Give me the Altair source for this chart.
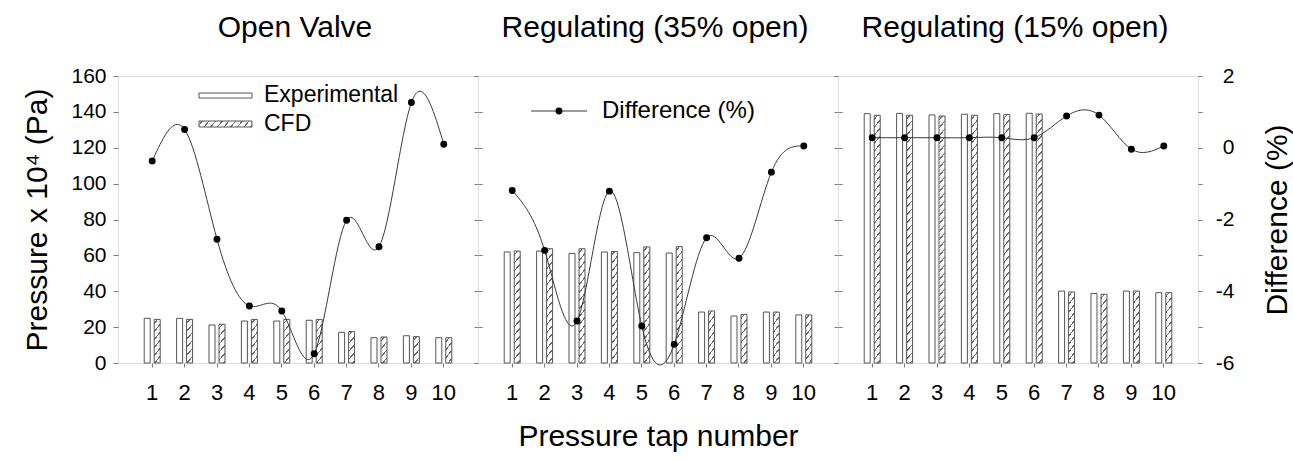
import altair as alt
import pandas as pd

# Pressure tap numbers shared by all three operating conditions
taps = list(range(1, 11))
series_names = ["Experimental", "CFD"]

titles = ["Open Valve", "Regulating (35% open)", "Regulating (15% open)"]

# Pressure x 10^4 (Pa)
exp_open = [24.9, 24.9, 21.2, 23.4, 23.4, 23.8, 17.1, 14.1, 15.2, 14.1]
cfd_open = [24.3, 24.3, 21.6, 24.3, 24.3, 24.3, 17.5, 14.5, 14.7, 14.1]
exp_35 = [61.9, 62.4, 61.1, 61.9, 61.5, 61.3, 28.4, 26.2, 28.4, 26.8]
cfd_35 = [62.4, 63.7, 63.7, 62.2, 64.7, 64.9, 29.0, 27.1, 28.4, 26.8]
exp_15 = [139.0, 139.2, 138.3, 138.7, 139.0, 139.2, 40.1, 38.8, 40.1, 39.2]
cfd_15 = [138.1, 138.1, 137.7, 138.1, 138.5, 138.8, 39.6, 38.3, 40.1, 39.2]

# Difference between CFD and experiment (%)
diff_open = [-0.37, 0.51, -2.55, -4.41, -4.55, -5.74, -2.02, -2.76, 1.26, 0.10]
diff_35 = [-1.19, -2.86, -4.83, -1.21, -4.97, -5.48, -2.51, -3.08, -0.68, 0.05]
diff_15 = [0.28, 0.28, 0.28, 0.28, 0.28, 0.28, 0.885, 0.91, -0.04, 0.05]

FONT = "Liberation Sans"
PANEL_W = 360
PANEL_H = 287
P_MAX = 160
BAR_W = 6  # resulting pixel width of each bar from the band settings below
FRAME = "#7a7a7a"


def hatch(w, h, slope=1.2, period=8.0, thick=1.7, ink="#6a6a6a", paper="white"):
    """Diagonal '/' hatching as a striped linear gradient for a w x h box."""
    s = w * slope + h
    k = s / (w * w * slope * slope + h * h)
    stops = [{"offset": 0, "color": paper}]
    c = period / 2
    while c + thick / 2 < s:
        a = round((c - thick / 2) / s, 5)
        b = round((c + thick / 2) / s, 5)
        stops += [
            {"offset": a, "color": paper},
            {"offset": a, "color": ink},
            {"offset": b, "color": ink},
            {"offset": b, "color": paper},
        ]
        c += period
    stops.append({"offset": 1, "color": paper})
    return {
        "gradient": "linear",
        "x1": 0,
        "y1": 0,
        "x2": round(k * w * slope, 5),
        "y2": round(k * h, 5),
        "stops": stops,
    }


def panel(idx, title, exp, cfd, diff):
    first, last = idx == 0, idx == 2
    bars_df = pd.DataFrame({
        "tap": taps * 2,
        "series": [series_names[0]] * len(taps) + [series_names[1]] * len(taps),
        "pressure": exp + cfd,
    })
    diff_df = pd.DataFrame({"tap": taps, "diff": diff})

    x = alt.X(
        "tap:O",
        scale=alt.Scale(paddingInner=0, paddingOuter=0.556),
        axis=alt.Axis(
            title="Pressure tap number" if idx == 1 else None,
            labelAngle=0, labelFontSize=22, labelPadding=15, labelColor="black",
            tickSize=4, tickColor=FRAME, domain=False,
            titleFontSize=30, titleFontWeight="normal", titlePadding=18,
            titleColor="black",
        ),
    )

    if first:
        p_axis = alt.Axis(
            values=list(range(0, 161, 20)), title="Pressure x 10⁴ (Pa)",
            labelFontSize=21, labelPadding=7, labelColor="black",
            tickSize=5, tickColor=FRAME, domain=False, grid=False,
            titleFontSize=30, titleFontWeight="normal", titlePadding=18,
            titleColor="black",
        )
    else:
        p_axis = alt.Axis(
            values=list(range(0, 161, 20)), title=None, labels=False,
            tickSize=4, tickColor=FRAME, domain=False, grid=False,
        )

    if last:
        d_axis = alt.Axis(
            orient="right", values=list(range(-6, 3)), title="Difference (%)",
            labelExpr="datum.value % 2 == 0 ? '' + datum.value : ''",
            labelFontSize=21, labelAlign="right", labelPadding=32,
            labelColor="black", tickSize=4, tickColor=FRAME, domain=False,
            grid=False, titleFontSize=30, titleFontWeight="normal",
            titleAngle=270, titleBaseline="top", titlePadding=28,
            titleColor="black",
        )
    else:
        d_axis = alt.Axis(
            orient="right", values=list(range(-6, 3)), title=None,
            labels=False, tickSize=4, tickColor=FRAME, domain=False, grid=False,
        )

    fill_conditions = [
        {
            "test": f"datum.series === 'CFD' && datum.tap === {t}",
            "value": hatch(BAR_W, v * PANEL_H / P_MAX),
        }
        for t, v in zip(taps, cfd)
    ]

    bars = alt.Chart(bars_df).mark_bar(stroke="#555555", strokeWidth=1).encode(
        x=x,
        xOffset=alt.XOffset(
            "series:N",
            scale=alt.Scale(domain=series_names, paddingInner=0.4, paddingOuter=0.82),
        ),
        y=alt.Y("pressure:Q", scale=alt.Scale(domain=[0, P_MAX], nice=False), axis=p_axis),
        fill={"value": "white", "condition": fill_conditions},
    )

    y_diff = alt.Y("diff:Q", scale=alt.Scale(domain=[-6, 2], nice=False), axis=d_axis)
    line = alt.Chart(diff_df).mark_line(
        interpolate="natural", color="#3a3a3a", strokeWidth=1
    ).encode(x=x, y=y_diff)
    dots = alt.Chart(diff_df).mark_circle(size=48, color="black", opacity=1).encode(
        x=x, y=y_diff
    )

    # panel heading above the plot area
    head = alt.Chart(pd.DataFrame({"label": [title]})).mark_text(
        font=FONT, fontSize=30, align="center", baseline="alphabetic", color="black"
    ).encode(x=alt.value(PANEL_W / 2 - 3), y=alt.value(-39), text="label:N")

    layers = [bars, alt.layer(line, dots), head]

    if idx == 0:
        one = pd.DataFrame({"label": [series_names[0]]})
        two = pd.DataFrame({"label": [series_names[1]]})
        layers += [
            alt.Chart(one).mark_rect(fill="white", stroke="#555555", strokeWidth=1).encode(
                x=alt.value(81), x2=alt.value(134), y=alt.value(17), y2=alt.value(22)
            ),
            alt.Chart(two).mark_rect(fill=hatch(53, 6), stroke="#555555", strokeWidth=1).encode(
                x=alt.value(81), x2=alt.value(134), y=alt.value(45), y2=alt.value(51)
            ),
            alt.Chart(one).mark_text(
                font=FONT, fontSize=23, align="left", baseline="middle", color="black"
            ).encode(x=alt.value(146), y=alt.value(19), text="label:N"),
            alt.Chart(two).mark_text(
                font=FONT, fontSize=23, align="left", baseline="middle", color="black"
            ).encode(x=alt.value(146), y=alt.value(48), text="label:N"),
        ]
    if idx == 1:
        lab = pd.DataFrame({"label": ["Difference (%)"]})
        layers += [
            alt.Chart(lab).mark_rule(color="#3a3a3a", strokeWidth=1).encode(
                x=alt.value(53), x2=alt.value(109), y=alt.value(35)
            ),
            alt.Chart(lab).mark_circle(size=48, color="black", opacity=1).encode(
                x=alt.value(81), y=alt.value(35)
            ),
            alt.Chart(lab).mark_text(
                font=FONT, fontSize=24, align="left", baseline="middle", color="black"
            ).encode(x=alt.value(124), y=alt.value(35), text="label:N"),
        ]

    return (
        alt.layer(*layers)
        .resolve_scale(y="independent")
        .properties(width=PANEL_W, height=PANEL_H)
    )


charts = [
    panel(0, titles[0], exp_open, cfd_open, diff_open),
    panel(1, titles[1], exp_35, cfd_35, diff_35),
    panel(2, titles[2], exp_15, cfd_15, diff_15),
]

chart = (
    alt.hconcat(*charts, spacing=0, bounds="flush")
    .properties(padding={"left": 22, "top": 12, "right": 0, "bottom": 0})
    .configure_view(stroke=FRAME, strokeWidth=1)
    .configure_axis(labelFont=FONT, titleFont=FONT)
    .configure(background="white")
)

chart.save("out.html", embed_options={"renderer": "svg", "actions": False})
